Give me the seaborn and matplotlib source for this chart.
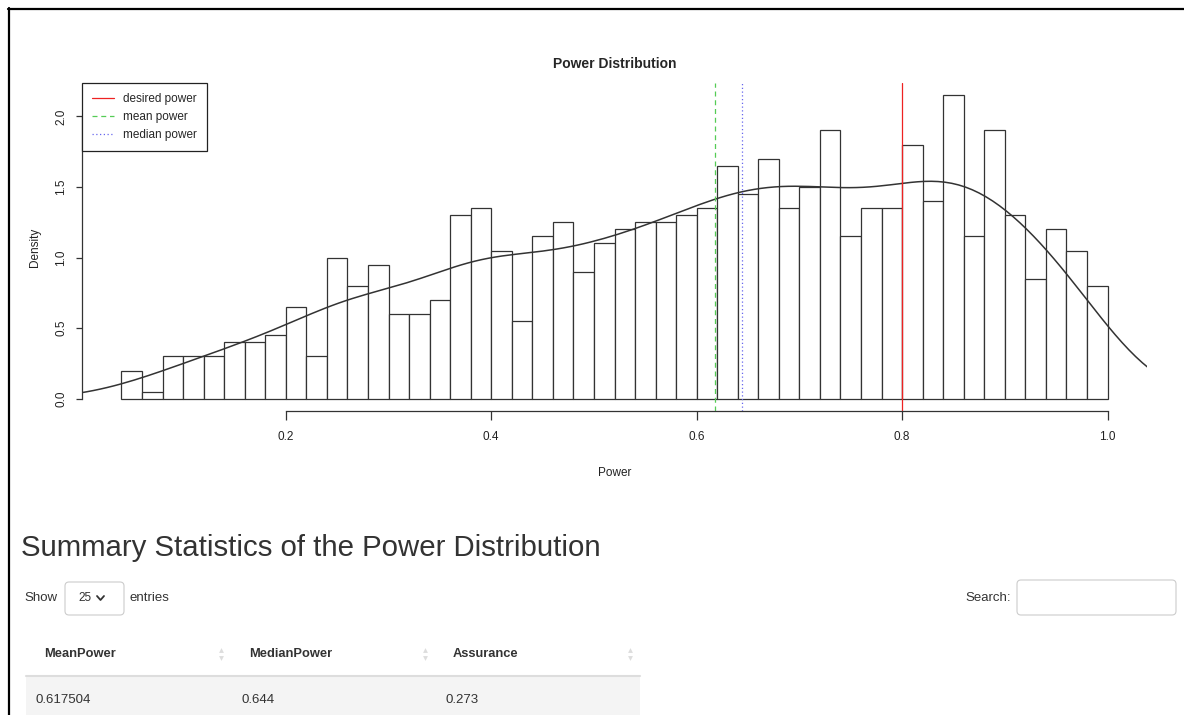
import numpy as np
import pandas as pd
import seaborn as sns
import matplotlib.pyplot as plt
from matplotlib.patches import FancyBboxPatch, Rectangle

# simulated power values, histogram (density per 0.02 bin)
bin_left = [0.04, 0.06, 0.08, 0.10, 0.12, 0.14, 0.16, 0.18, 0.20, 0.22,
            0.24, 0.26, 0.28, 0.30, 0.32, 0.34, 0.36, 0.38, 0.40, 0.42,
            0.44, 0.46, 0.48, 0.50, 0.52, 0.54, 0.56, 0.58, 0.60, 0.62,
            0.64, 0.66, 0.68, 0.70, 0.72, 0.74, 0.76, 0.78, 0.80, 0.82,
            0.84, 0.86, 0.88, 0.90, 0.92, 0.94, 0.96, 0.98]
density = [0.20, 0.05, 0.30, 0.30, 0.30, 0.40, 0.40, 0.45, 0.65, 0.30,
           1.00, 0.80, 0.95, 0.60, 0.60, 0.70, 1.30, 1.35, 1.05, 0.55,
           1.15, 1.25, 0.90, 1.10, 1.20, 1.25, 1.25, 1.30, 1.35, 1.65,
           1.45, 1.70, 1.35, 1.50, 1.90, 1.15, 1.35, 1.35, 1.80, 1.40,
           2.15, 1.15, 1.90, 1.30, 0.85, 1.20, 1.05, 0.80]
bin_width = 0.02
n_sims = 1000

desired_power = 0.8
mean_power = 0.617504
median_power = 0.644
assurance = 0.273

x_ticks = [0.2, 0.4, 0.6, 0.8, 1.0]
y_ticks = [0.0, 0.5, 1.0, 1.5, 2.0]
table_cols = ["MeanPower", "MedianPower", "Assurance"]
table_vals = [mean_power, median_power, assurance]

df = pd.DataFrame({"power": [b + bin_width / 2 for b in bin_left], "density": density})
edges = bin_left + [bin_left[-1] + bin_width]

sns.set_style("white")
plt.rcParams['font.family'] = ['Liberation Sans', 'DejaVu Sans']
W, H = 1184, 715
fig = plt.figure(figsize=(W / 100, H / 100), dpi=100)

# overlay in pixel units for the page parts (frame, table widgets)
page = fig.add_axes([0, 0, 1, 1])
page.set_xlim(0, W)
page.set_ylim(H, 0)
page.axis("off")

ax = fig.add_axes([82 / W, 1 - 411 / H, (1147 - 82) / W, (411 - 83) / H])
sns.histplot(data=df, x="power", weights="density", bins=edges, stat="count",
             color="white", edgecolor="#333333", linewidth=0.9, alpha=1, ax=ax)
sns.kdeplot(data=df, x="power", weights="density", bw_method=0.9 * n_sims ** -0.2,
            color="#333333", linewidth=1.1, ax=ax)
ax.axvline(desired_power, color="#ee2222", lw=0.9, ls="-", label="desired power")
ax.axvline(mean_power, color="#55cc55", lw=0.9, ls=(0, (4, 3)), label="mean power")
ax.axvline(median_power, color="#6666ee", lw=0.9, ls=(0, (1, 2)), label="median power")

ax.set_xlim(0.0016, 1.0384)
ax.set_ylim(-0.086, 2.236)
ax.set_xticks(x_ticks)
ax.set_xticklabels([f"{v:.1f}" for v in x_ticks])
ax.set_yticks(y_ticks)
ax.set_yticklabels([f"{v:.1f}" for v in y_ticks], rotation=90, va="center")
for s in ["top", "right"]:
    ax.spines[s].set_visible(False)
ax.spines["left"].set_bounds(0, 2.0)
ax.spines["bottom"].set_bounds(0.2, 1.0)
for s in ["left", "bottom"]:
    ax.spines[s].set_color("#333333")
    ax.spines[s].set_linewidth(0.9)
ax.tick_params(axis="x", direction="out", length=6.5, width=0.9, color="#333333",
               labelsize=8.5, labelcolor="#222222", pad=8, bottom=True)
ax.tick_params(axis="y", direction="out", length=4.5, width=0.9, color="#333333",
               labelsize=8.5, labelcolor="#222222", pad=6, left=True)
ax.set_xlabel("Power", fontsize=8.5, color="#222222", va="center")
ax.xaxis.set_label_coords(0.5, -0.189)
ax.set_ylabel("Density", fontsize=8.5, color="#222222", va="center")
ax.yaxis.set_label_coords(-0.044, 0.5)
ax.set_title("Power Distribution", fontsize=10, fontweight="bold", pad=11)

leg = ax.legend(loc="upper left", bbox_to_anchor=(0, 1), borderaxespad=0,
                fancybox=False, edgecolor="#222222", framealpha=1, fontsize=8.5,
                handlelength=1.9, handletextpad=0.75, labelspacing=0.5, borderpad=0.85)
leg.get_frame().set_linewidth(0.9)

# screenshot frame
page.plot([9, 9], [8, H], color="black", lw=1.6)
page.plot([8, W], [9, 9], color="black", lw=1.6)

# summary statistics section
txt = "#333333"
page.text(21, 548, "Summary Statistics of the Power Distribution", fontsize=21.2,
          color=txt, va="center", ha="left")
page.text(24, 598, "Show", fontsize=9.5, color=txt, va="center")
page.add_patch(FancyBboxPatch((65, 582), 59, 33, boxstyle="round,pad=0,rounding_size=4",
                              ec="#cccccc", fc="white", lw=0.8))
page.text(78, 598, "25", fontsize=8.5, color=txt, va="center")
page.plot([97, 100.5, 104], [596, 600, 596], color=txt, lw=1.3)
page.text(130, 598, "entries", fontsize=9.5, color=txt, va="center")
page.text(1011, 598, "Search:", fontsize=9.5, color=txt, va="center", ha="right")
page.add_patch(FancyBboxPatch((1017, 580), 159, 35, boxstyle="round,pad=0,rounding_size=4",
                              ec="#cccccc", fc="white", lw=0.8))

col_left = [26, 231, 435]
col_right = [231, 435, 640]
page.add_patch(Rectangle((26, 677), 614, 40, fc="#f4f4f4", ec="none"))
page.plot([26, 640], [676, 676], color="#dddddd", lw=1.5)
for c, name, val in zip(col_left, table_cols, table_vals):
    page.text(c + 18, 654, name, fontsize=9.3, fontweight="bold", color=txt, va="center")
    page.text(c + 10, 700, f"{val}", fontsize=9.5, color=txt, va="center")
for r in col_right:
    page.plot([r - 10], [650], marker="^", ms=3.5, color="#dddddd", mec="none")
    page.plot([r - 10], [658], marker="v", ms=3.5, color="#dddddd", mec="none")

fig.savefig("out.png", dpi=100)
